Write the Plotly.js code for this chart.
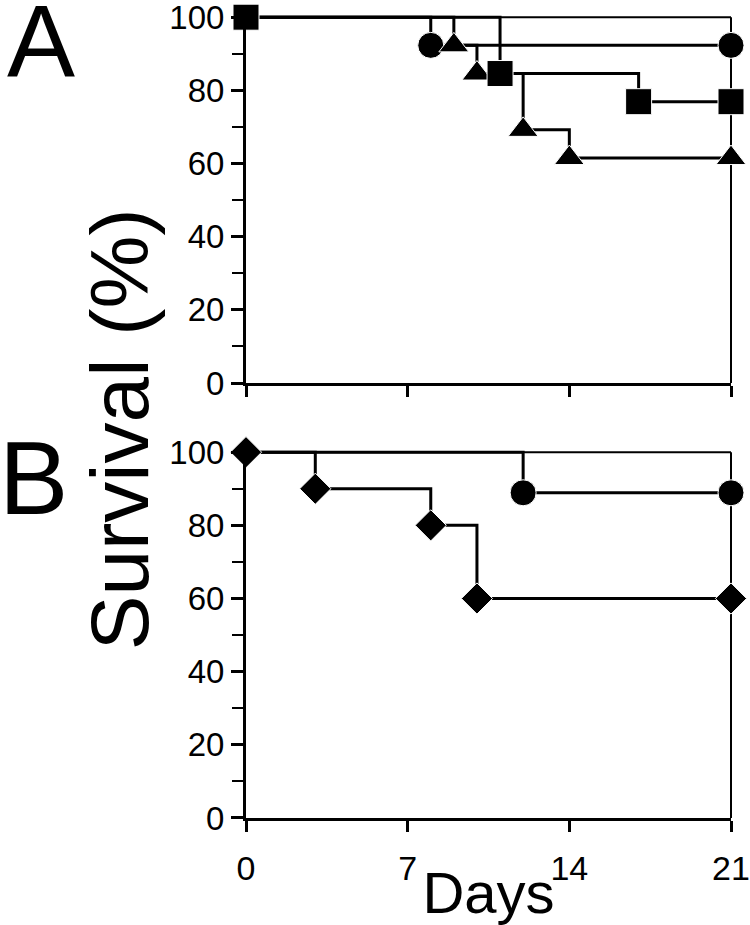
<!DOCTYPE html>
<html>
<head>
<meta charset="utf-8">
<script src="https://cdn.plot.ly/plotly-3.0.1.min.js"></script>
<style>
  html, body { margin: 0; padding: 0; background: #fff; }
  #chart { width: 750px; height: 925px; }
</style>
</head>
<body>
<div id="chart"></div>
<script>
// tick positions
var dayTicks = [0, 7, 14, 21];
var survTicks = [0, 20, 40, 60, 80, 100];
var survMinor = [10, 30, 50, 70, 90];

// panel A survival curves
var aCircleDay = [0, 8, 21];
var aCircleSurv = [100, 92.3, 92.3];
var aTriDay = [0, 9, 10, 12, 14, 21];
var aTriSurv = [100, 92.3, 84.6, 69.2, 61.5, 61.5];
var aSquareDay = [0, 11, 17, 21];
var aSquareSurv = [100, 84.6, 76.9, 76.9];

// panel B survival curves
var bCircleDay = [0, 12, 21];
var bCircleSurv = [100, 88.9, 88.9];
var bDiamondDay = [0, 3, 8, 10, 21];
var bDiamondSurv = [100, 90, 80, 60, 60];

var FONT = 'Liberation Sans, Arial, Helvetica, sans-serif';

// step curve; the day-0 marker is hidden when another group's marker sits on it
function km(x, y, symbol, size, hideStart, xa, ya) {
  var sizes = x.map(function (d, i) { return (hideStart && i === 0) ? 0 : size; });
  return {
    x: x, y: y, xaxis: xa, yaxis: ya,
    type: 'scatter', mode: 'lines+markers',
    line: { shape: 'hv', color: '#000', width: 3 },
    marker: { symbol: symbol, size: sizes, color: '#000', opacity: 1 },
    cliponaxis: false,
    hoverinfo: 'x+y'
  };
}

var data = [
  km(aCircleDay, aCircleSurv, 'circle', 26, true, 'x', 'y'),
  km(aTriDay, aTriSurv, 'triangle-up', 26, true, 'x', 'y'),
  km(aSquareDay, aSquareSurv, 'square', 26, false, 'x', 'y'),
  km(bCircleDay, bCircleSurv, 'circle', 26, true, 'x2', 'y2'),
  km(bDiamondDay, bDiamondSurv, 'diamond', 24, false, 'x2', 'y2')
];

function xAxis(anchor, labels) {
  return {
    anchor: anchor, domain: [0, 1], range: [0, 21],
    tickvals: dayTicks, ticks: 'outside', ticklen: 11, tickwidth: 3, tickcolor: '#000',
    showticklabels: labels, tickfont: { size: 34, color: '#000' },
    ticklabelstandoff: 7, ticklabeloverflow: 'allow',
    showline: true, linewidth: 3, linecolor: '#000',
    showgrid: false, zeroline: false, fixedrange: true
  };
}

function yAxis(anchor, domain) {
  return {
    anchor: anchor, domain: domain, range: [0, 100.6],
    tickvals: survTicks, ticks: 'outside', ticklen: 12, tickwidth: 3, tickcolor: '#000',
    minor: { tickvals: survMinor, ticks: 'outside', ticklen: 11, tickwidth: 2, tickcolor: '#000' },
    tickfont: { size: 33, color: '#000' }, ticklabeloverflow: 'allow',
    showline: true, linewidth: 3, linecolor: '#000',
    showgrid: false, zeroline: false, fixedrange: true
  };
}

// thin frame on top and right of each panel
function frame(xa, ya) {
  return [
    { type: 'line', xref: xa + ' domain', yref: ya, x0: 0, x1: 1, y0: 100, y1: 100,
      line: { color: '#000', width: 2 }, layer: 'below' },
    { type: 'line', xref: xa + ' domain', yref: ya, x0: 1, x1: 1, y0: 0, y1: 100,
      line: { color: '#000', width: 2 }, layer: 'below' }
  ];
}

var xB = xAxis('y2', true);
xB.title = { text: 'Days', font: { size: 58, color: '#000' }, standoff: 6 };

var layout = {
  width: 750, height: 925,
  margin: { l: 246, r: 19, t: 15, b: 107 },
  paper_bgcolor: '#fff', plot_bgcolor: '#fff',
  font: { family: FONT, color: '#000' },
  showlegend: false,
  xaxis: xAxis('y', false),
  yaxis: yAxis('x', [0.5417, 1]),
  xaxis2: xB,
  yaxis2: yAxis('x2', [0, 0.4583]),
  shapes: frame('x', 'y').concat(frame('x2', 'y2')),
  annotations: [
    { text: 'A', xref: 'paper', yref: 'paper', x: -0.497, y: 0.966, xanchor: 'left', yanchor: 'middle',
      showarrow: false, font: { size: 102, color: '#000' } },
    { text: 'B', xref: 'paper', yref: 'paper', x: -0.514, y: 0.423, xanchor: 'left', yanchor: 'middle',
      showarrow: false, font: { size: 104, color: '#000' } },
    { text: 'Survival (%)', xref: 'paper', yref: 'paper', x: -0.262, y: 0.484, xanchor: 'center', yanchor: 'middle',
      textangle: -90, showarrow: false, font: { size: 82, color: '#000' } }
  ]
};

Plotly.newPlot('chart', data, layout, { displayModeBar: false, staticPlot: true });
</script>
</body>
</html>
